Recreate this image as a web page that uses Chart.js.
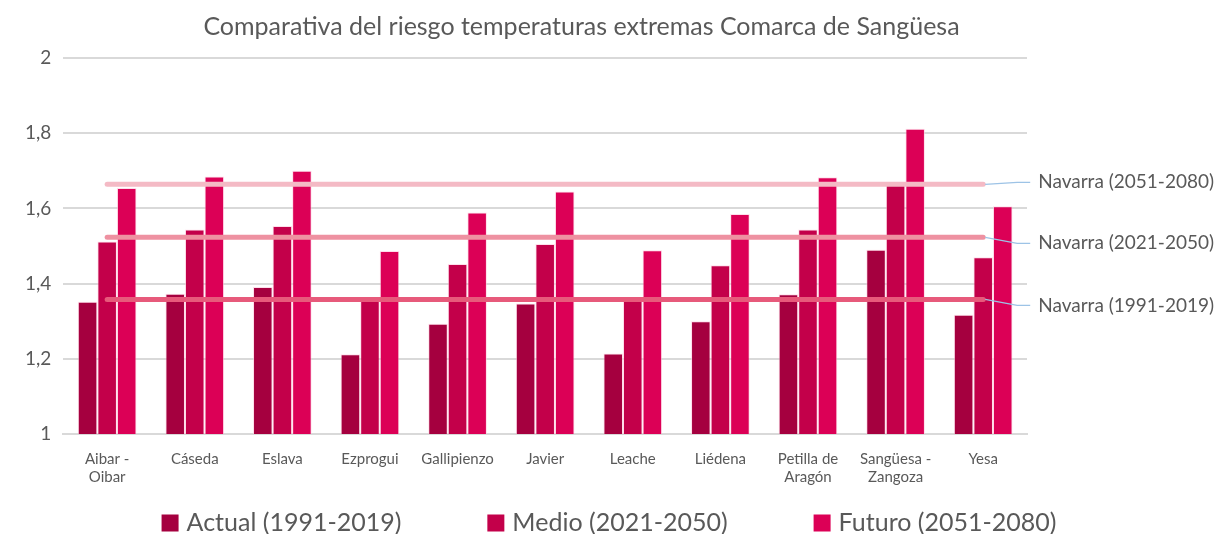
<!DOCTYPE html>
<html lang="es">
<head>
    <meta charset="UTF-8">
    <title>Comparativa del riesgo temperaturas extremas Comarca de Sangüesa</title>
    <style>
        body {
            margin: 0;
            background-color: #fff;
        }

        #chart-container {
            width: 1218px;
            height: 534px;
        }
    </style>
</head>
<body>
    <div id="chart-container">
        <canvas id="riesgo-chart"></canvas>
    </div>

    <script src="https://cdn.jsdelivr.net/npm/chart.js"></script>

    <script>
        const municipios = [
            ["Aibar -", "Oibar"], "Cáseda", "Eslava", "Ezprogui", "Gallipienzo", "Javier",
            "Leache", "Liédena", ["Petilla de", "Aragón"], ["Sangüesa -", "Zangoza"], "Yesa"
        ];

        const actual = [1.352, 1.373, 1.391, 1.212, 1.293, 1.347, 1.214, 1.300, 1.372, 1.490, 1.317];
        const medio = [1.512, 1.544, 1.553, 1.360, 1.452, 1.505, 1.362, 1.449, 1.544, 1.662, 1.470];
        const futuro = [1.654, 1.685, 1.700, 1.487, 1.589, 1.645, 1.489, 1.585, 1.683, 1.812, 1.606];

        // media de Navarra para cada periodo
        const navarra1991 = 1.358;
        const navarra2021 = 1.523;
        const navarra2051 = 1.664;

        const yTicks = [1, 1.2, 1.4, 1.6, 1.8, 2];

        const grey = '#595959';

        function lineaNavarra(label, value, color) {
            return {
                type: 'line',
                label: label,
                data: municipios.map(() => value),
                borderColor: color,
                borderWidth: 5,
                borderCapStyle: 'round',
                pointRadius: 0,
                fill: false,
                order: 0
            };
        }

        function barras(label, data, color) {
            return {
                label: label,
                data: data,
                backgroundColor: color,
                borderColor: 'rgba(255, 200, 220, 0.6)',
                borderWidth: 1,
                borderSkipped: 'bottom',
                categoryPercentage: 0.67,
                barPercentage: 1,
                order: 1
            };
        }

        // etiquetas a la derecha de las lineas de Navarra, con su linea guia
        const etiquetasNavarra = {
            id: 'etiquetasNavarra',
            afterDatasetsDraw(chart) {
                const ctx = chart.ctx;
                const shifts = { 3: -2, 4: 6, 5: 6 };
                ctx.save();
                ctx.font = '19px Lato';
                ctx.fillStyle = grey;
                ctx.textBaseline = 'middle';
                chart.data.datasets.forEach((ds, i) => {
                    if (ds.type !== 'line') return;
                    const pts = chart.getDatasetMeta(i).data;
                    const last = pts[pts.length - 1];
                    const ty = last.y + shifts[i];
                    ctx.strokeStyle = '#9dc3e6';
                    ctx.lineWidth = 1.2;
                    ctx.beginPath();
                    ctx.moveTo(last.x + 2, last.y);
                    ctx.lineTo(last.x + 34, ty);
                    ctx.lineTo(last.x + 47, ty);
                    ctx.stroke();
                    ctx.fillText(ds.label, last.x + 55, ty);
                });
                ctx.restore();
            }
        };

        // leyenda inferior solo con las series de barras, bien espaciada
        const leyenda = {
            id: 'leyenda',
            afterDraw(chart) {
                const ctx = chart.ctx;
                const box = 17, gap = 8, spacing = 86;
                const items = chart.data.datasets.filter(ds => ds.type !== 'line');
                ctx.save();
                ctx.font = '25px Lato';
                const widths = items.map(ds => box + gap + ctx.measureText(ds.label).width);
                const total = widths.reduce((a, b) => a + b, 0) + spacing * (items.length - 1);
                let x = (chart.width - total) / 2;
                const y = chart.height - 11;
                ctx.textBaseline = 'middle';
                items.forEach((ds, i) => {
                    ctx.fillStyle = ds.backgroundColor;
                    ctx.fillRect(x, y - box / 2, box, box);
                    ctx.fillStyle = grey;
                    ctx.fillText(ds.label, x + box + gap, y);
                    x += widths[i] + spacing;
                });
                ctx.restore();
            }
        };

        const ctx = document.getElementById('riesgo-chart').getContext('2d');
        new Chart(ctx, {
            type: 'bar',
            data: {
                labels: municipios,
                datasets: [
                    barras('Actual (1991-2019)', actual, '#a5003f'),
                    barras('Medio (2021-2050)', medio, '#c3004a'),
                    barras('Futuro (2051-2080)', futuro, '#dc0056'),
                    lineaNavarra('Navarra (2051-2080)', navarra2051, '#f4bac5'),
                    lineaNavarra('Navarra (2021-2050)', navarra2021, '#ee91a1'),
                    lineaNavarra('Navarra (1991-2019)', navarra1991, '#e75a7b')
                ]
            },
            options: {
                responsive: true,
                maintainAspectRatio: false,
                animation: false,
                layout: {
                    padding: { left: 13, right: 68, top: 0, bottom: 40 }
                },
                plugins: {
                    title: {
                        display: true,
                        text: 'Comparativa del riesgo temperaturas extremas Comarca de Sangüesa',
                        color: grey,
                        font: { family: 'Lato', size: 25, weight: 'normal' },
                        padding: { top: 12, bottom: 16 }
                    },
                    legend: { display: false },
                    tooltip: { enabled: false }
                },
                scales: {
                    x: {
                        grid: { display: false },
                        border: { color: '#d9d9d9', width: 2 },
                        ticks: {
                            color: grey,
                            padding: 8,
                            font: { family: 'Lato', size: 15 },
                            maxRotation: 0,
                            autoSkip: false
                        }
                    },
                    y: {
                        min: 1,
                        max: 2,
                        afterBuildTicks: axis => {
                            axis.ticks = yTicks.map(v => ({ value: v }));
                        },
                        grid: { color: '#d9d9d9', lineWidth: 2, drawTicks: false },
                        border: { display: false },
                        ticks: {
                            color: grey,
                            padding: 12,
                            font: { family: 'Lato', size: 19 },
                            callback: v => String(Math.round(v * 10) / 10).replace('.', ',')
                        }
                    },
                    // margen derecho para las etiquetas de Navarra
                    margen: {
                        position: 'right',
                        grid: { display: false },
                        border: { display: false },
                        ticks: { display: false },
                        afterFit: axis => { axis.width = 123; }
                    }
                }
            },
            plugins: [etiquetasNavarra, leyenda]
        });
    </script>
</body>
</html>
